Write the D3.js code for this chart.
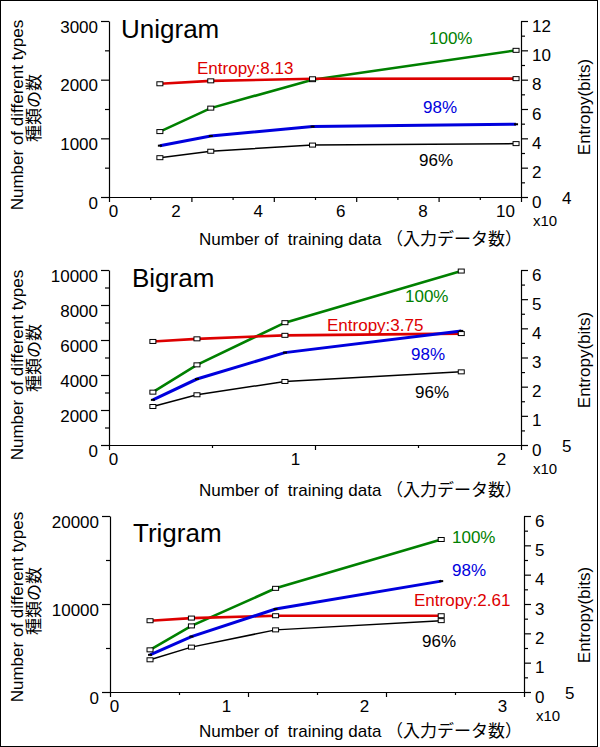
<!DOCTYPE html>
<html><head><meta charset="utf-8">
<script src="https://cdn.jsdelivr.net/npm/d3@7/dist/d3.min.js"></script>
<style>
body{margin:0;background:#fff}
text{font-family:"Liberation Sans","Noto Sans CJK JP",sans-serif;}
</style>
</head><body>
<svg id="c" width="600" height="747"></svg>
<script>
// ---------- data (x in units of 10^4 / 10^5 as shown on axes) ----------
const uniTrain = [1.235, 2.47, 4.94, 9.88];
const uni100 = [1115, 1515, 2000, 2500];
const uni98  = [875, 1040, 1200, 1240];
const uni96  = [670, 780, 885, 910];
const uniEnt = [7.72, 7.92, 8.06, 8.07];

const biTrain = [0.213, 0.427, 0.854, 1.71];
const bi100 = [3020, 4580, 6990, 9940];
const bi98  = [2580, 3770, 5280, 6520];
const bi96  = [2200, 2870, 3630, 4180];
const biEnt = [3.55, 3.64, 3.76, 3.82];

const triTrain = [0.29, 0.59, 1.2, 2.4];
const tri100 = [4790, 7510, 11780, 17330];
const tri98  = [4220, 6300, 9430, 12600];
const tri96  = [3660, 5100, 7060, 8110];
const triEnt = [2.43, 2.52, 2.60, 2.60];

const titles = ["Unigram", "Bigram", "Trigram"];
const entLabels = ["Entropy:8.13", "Entropy:3.75", "Entropy:2.61"];
const seriesLabels = ["100%", "98%", "96%"];
const exponents = ["4", "5", "5"];

const uniXTicks = [0, 2, 4, 6, 8, 10];
const uniXMinor = [1, 3, 5, 7, 9];
const uniYTicks = [0, 1000, 2000, 3000];
const uniYMinor = [500, 1500, 2500];
const uniRTicks = [0, 2, 4, 6, 8, 10, 12];
const uniRMinor = [1, 3, 5, 7, 9, 11];

const biXTicks = [0, 1, 2];
const biXMinor = [0.5, 1.5];
const biYTicks = [0, 2000, 4000, 6000, 8000, 10000];
const biYMinor = [1000, 3000, 5000, 7000, 9000];
const biRTicks = [0, 1, 2, 3, 4, 5, 6];
const biRMinor = [0.5, 1.5, 2.5, 3.5, 4.5, 5.5];

const triXTicks = [0, 1, 2, 3];
const triXMinor = [0.5, 1.5, 2.5];
const triYTicks = [0, 10000, 20000];
const triYMinor = [5000, 15000];
const triRTicks = [0, 1, 2, 3, 4, 5, 6];
const triRMinor = [0.5, 1.5, 2.5, 3.5, 4.5, 5.5];

// ---------- colours ----------
const C100 = "#008000", C98 = "#0000dd", C96 = "#000000", CENT = "#dd0000";

const svg = d3.select("#c");
svg.append("rect").attr("x", 0.5).attr("y", 0.5).attr("width", 597).attr("height", 746)
  .attr("fill", "#fff").attr("stroke", "#000").attr("stroke-width", 1);

const panels = [
  { x: uniTrain, s100: uni100, s98: uni98, s96: uni96, ent: uniEnt,
    xDom: [0, 10], xT: uniXTicks, xM: uniXMinor, yDom: [0, 3000], yT: uniYTicks, yM: uniYMinor,
    rDom: [0, 12], rT: uniRTicks, rM: uniRMinor,
    box: { l: 109, r: 521, t: 21, b: 197 }, xLabDx: -16,
    titlePos: [121, 38], yTitleC: 115, jTitleC: 108, rTitleC: 107, xTitleY: 245,
    lab100: [429, 44], labEnt: [197, 74], lab98: [423, 113], lab96: [419, 166] },
  { x: biTrain, s100: bi100, s98: bi98, s96: bi96, ent: biEnt,
    xDom: [0, 2], xT: biXTicks, xM: biXMinor, yDom: [0, 10000], yT: biYTicks, yM: biYMinor,
    rDom: [0, 6], rT: biRTicks, rM: biRMinor,
    box: { l: 109, r: 521, t: 270, b: 445 }, xLabDx: -20,
    titlePos: [132, 287], yTitleC: 365, jTitleC: 358, rTitleC: 360, xTitleY: 496,
    lab100: [405, 302], labEnt: [327, 331], lab98: [411, 360], lab96: [415, 398] },
  { x: triTrain, s100: tri100, s98: tri98, s96: tri96, ent: triEnt,
    xDom: [0, 3], xT: triXTicks, xM: triXMinor, yDom: [0, 20000], yT: triYTicks, yM: triYMinor,
    rDom: [0, 6], rT: triRTicks, rM: triRMinor,
    box: { l: 110, r: 524, t: 516, b: 692 }, xLabDx: -22,
    titlePos: [133, 542], yTitleC: 607, jTitleC: 601, rTitleC: 615, xTitleY: 737,
    lab100: [452, 543], labEnt: [414, 606], lab98: [452, 576], lab96: [422, 647] }
];

panels.forEach((p, i) => {
  const b = p.box;
  const x = d3.scaleLinear().domain(p.xDom).range([b.l, b.r]);
  const y = d3.scaleLinear().domain(p.yDom).range([b.b, b.t]);
  const yr = d3.scaleLinear().domain(p.rDom).range([b.b, b.t]);
  const g = svg.append("g");

  // axes
  const fs = "17px";
  const left = g.append("g").attr("transform", `translate(${b.l},0)`)
    .call(d3.axisLeft(y).tickValues(p.yT).tickSize(8).tickSizeOuter(0).tickPadding(3).tickFormat(d3.format("d")));
  left.selectAll("text").attr("dy", "11px").style("font-size", fs).attr("fill", "#000");
  g.append("g").attr("transform", `translate(${b.l},0)`)
    .call(d3.axisLeft(y).tickValues(p.yM).tickSize(4).tickFormat(""))
    .select(".domain").remove();

  const bottom = g.append("g").attr("transform", `translate(0,${b.b})`)
    .call(d3.axisBottom(x).tickValues(p.xT).tickSize(5).tickSizeOuter(0).tickPadding(3).tickFormat(d3.format("d")));
  bottom.selectAll("text").style("font-size", fs).attr("fill", "#000")
    .attr("dx", d => d === 0 ? 4 : p.xLabDx);
  g.append("g").attr("transform", `translate(0,${b.b})`)
    .call(d3.axisBottom(x).tickValues(p.xM).tickSize(3).tickFormat(""))
    .select(".domain").remove();

  const right = g.append("g").attr("transform", `translate(${b.r},0)`)
    .call(d3.axisRight(yr).tickValues(p.rT).tickSize(7).tickSizeOuter(0).tickPadding(4).tickFormat(d3.format("d")));
  right.selectAll("text").attr("dy", "10px").style("font-size", fs).attr("fill", "#000");
  g.append("g").attr("transform", `translate(${b.r},0)`)
    .call(d3.axisRight(yr).tickValues(p.rM).tickSize(4).tickFormat(""))
    .select(".domain").remove();

  g.selectAll(".domain, .tick line").attr("stroke", "#000").attr("stroke-width", 1.2);

  // exponent
  g.append("text").attr("x", b.r + 12).attr("y", b.b + 29).style("font-size", "15px").text("x10");
  g.append("text").attr("x", b.r + 41).attr("y", b.b + 7).style("font-size", fs).text(exponents[i]);

  // series lines
  const series = [
    { v: p.s100, col: C100, w: 2.6, sc: y, mk: "open" },
    { v: p.ent, col: CENT, w: 2.6, sc: yr, mk: "open" },
    { v: p.s98, col: C98, w: 3, sc: y, mk: "dot" },
    { v: p.s96, col: C96, w: 1.5, sc: y, mk: "open" }
  ];
  series.forEach(s => {
    const pts = p.x.map((xv, k) => [xv, s.v[k]]);
    g.append("path").datum(pts)
      .attr("d", d3.line().x(d => x(d[0])).y(d => s.sc(d[1])))
      .attr("fill", "none").attr("stroke", s.col).attr("stroke-width", s.w);
  });
  series.forEach(s => {
    const pts = p.x.map((xv, k) => [xv, s.v[k]]);
    if (s.mk === "open") {
      g.selectAll(null).data(pts).enter().append("rect")
        .attr("x", d => x(d[0]) - 3).attr("y", d => s.sc(d[1]) - 2)
        .attr("width", 6).attr("height", 4)
        .attr("fill", "#fff").attr("stroke", "#000").attr("stroke-width", 1);
    } else {
      g.selectAll(null).data(pts).enter().append("rect")
        .attr("x", d => x(d[0]) - 2).attr("y", d => s.sc(d[1]) - 1)
        .attr("width", 4).attr("height", 2).attr("fill", "#000");
    }
  });

  // labels
  g.append("text").attr("x", p.titlePos[0]).attr("y", p.titlePos[1]).style("font-size", "26px").text(titles[i]);
  g.append("text").attr("x", p.lab100[0]).attr("y", p.lab100[1]).style("font-size", "17px").attr("fill", C100).text(seriesLabels[0]);
  g.append("text").attr("x", p.lab98[0]).attr("y", p.lab98[1]).style("font-size", "17px").attr("fill", C98).text(seriesLabels[1]);
  g.append("text").attr("x", p.lab96[0]).attr("y", p.lab96[1]).style("font-size", "17px").attr("fill", C96).text(seriesLabels[2]);
  g.append("text").attr("x", p.labEnt[0]).attr("y", p.labEnt[1]).style("font-size", "17px").attr("fill", CENT).text(entLabels[i]);

  // axis titles
  g.append("text").attr("transform", `translate(23,${p.yTitleC}) rotate(-90)`)
    .attr("text-anchor", "middle").style("font-size", "17px").text("Number of different types");
  g.append("text").attr("transform", `translate(40,${p.jTitleC}) rotate(-90)`)
    .attr("text-anchor", "middle").style("font-size", "17px").text("種類の数");
  g.append("text").attr("transform", `translate(590,${p.rTitleC}) rotate(-90)`)
    .attr("text-anchor", "middle").style("font-size", "17px").text("Entropy(bits)");
  g.append("text").attr("x", 199).attr("y", p.xTitleY).style("font-size", "17px")
    .style("white-space", "pre").text("Number of  training data （入力データ数）");
});
</script>
</body></html>
